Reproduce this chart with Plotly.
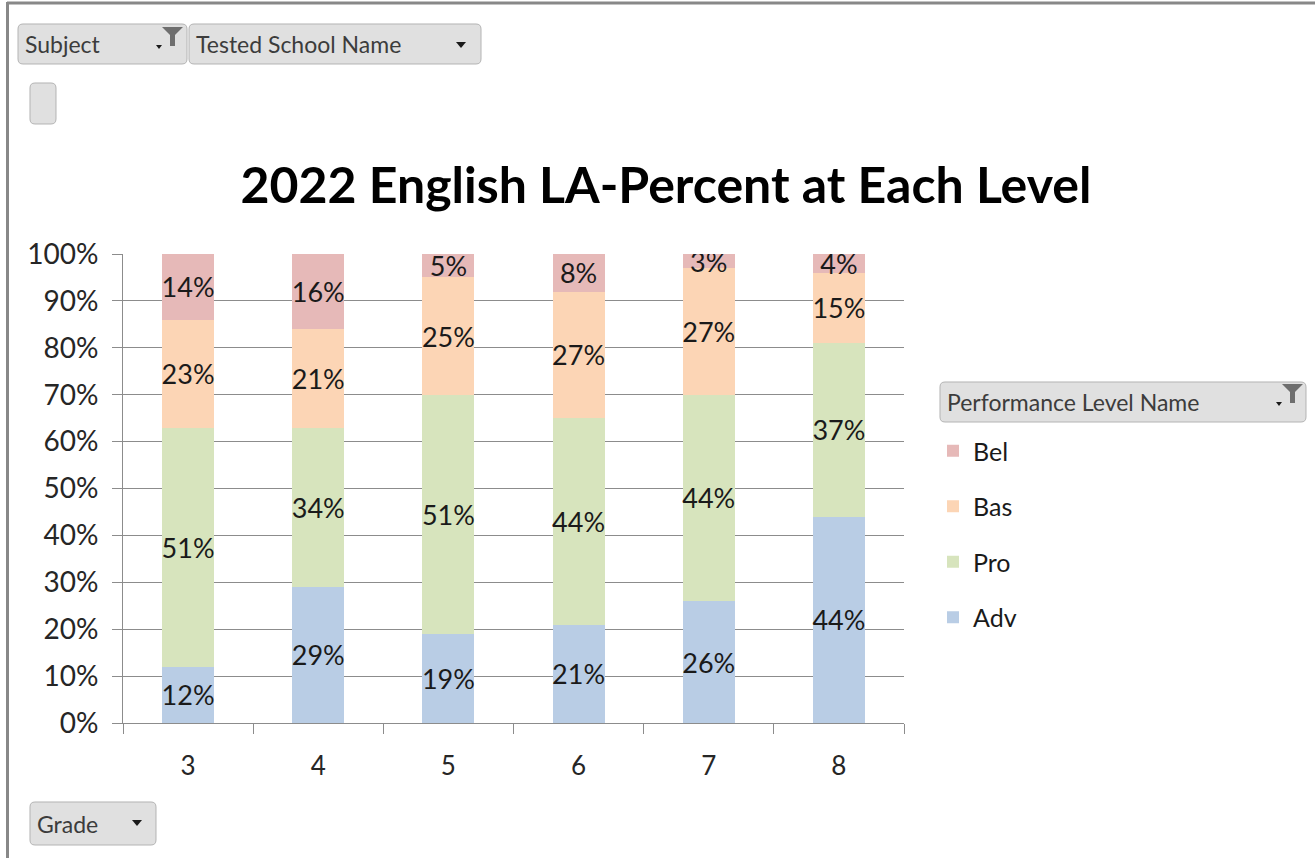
import plotly.graph_objects as go

# ---- data ----
grades = ["3", "4", "5", "6", "7", "8"]
adv = [12, 29, 19, 21, 26, 44]
pro = [51, 34, 51, 44, 44, 37]
bas = [23, 21, 25, 27, 27, 15]
bel = [14, 16, 5, 8, 3, 4]
series_names = ["Adv", "Pro", "Bas", "Bel"]
legend_ranks = [4, 3, 2, 1]
y_ticks = [0, 10, 20, 30, 40, 50, 60, 70, 80, 90, 100]
y_tick_labels = [f"{v}%" for v in y_ticks]
title_text = "2022 English LA-Percent at Each Level"

colors = {"Adv": "#b9cde5", "Pro": "#d7e4bd", "Bas": "#fcd5b5", "Bel": "#e6b9b8"}
FONT = "Lato, Carlito, Calibri, sans-serif"

W, H = 1315, 858
L, R, T, B = 123, 904, 254, 723


def px(x):
    return (x - L) / (R - L)


def py(y):
    return (B - y) / (B - T)


def rrect(x0, y0, x1, y1, r=5):
    pts = [
        ("M", (x0 + r, y0)), ("L", (x1 - r, y0)), ("Q", (x1, y0), (x1, y0 + r)),
        ("L", (x1, y1 - r)), ("Q", (x1, y1), (x1 - r, y1)),
        ("L", (x0 + r, y1)), ("Q", (x0, y1), (x0, y1 - r)),
        ("L", (x0, y0 + r)), ("Q", (x0, y0), (x0 + r, y0)),
    ]
    s = ""
    for p in pts:
        s += p[0] + " ".join(f"{px(a):.5f},{py(b):.5f}" for a, b in p[1:]) + " "
    return s + "Z"


def poly(points):
    s = "M" + " L".join(f"{px(a):.5f},{py(b):.5f}" for a, b in points)
    return s + " Z"


fig = go.Figure()
for name, vals, rank in zip(series_names, [adv, pro, bas, bel], legend_ranks):
    fig.add_trace(go.Bar(
        x=grades, y=vals, name=name,
        marker=dict(color=colors[name], line=dict(width=0)),
        text=[f"{v}%" for v in vals],
        textposition="inside", insidetextanchor="middle",
        constraintext="none", textangle=0,
        textfont=dict(family=FONT, size=27, color="#1a1a1a"),
        width=0.4, legendgroup=name, legendrank=rank, hoverinfo="x+y+name",
    ))

shapes = []
annotations = []

# frame lines
shapes.append(dict(type="line", xref="paper", yref="paper", x0=px(7), x1=px(1315), y0=py(3), y1=py(3),
                   line=dict(color="#888888", width=3)))
shapes.append(dict(type="line", xref="paper", yref="paper", x0=px(7.5), x1=px(7.5), y0=py(2), y1=py(858),
                   line=dict(color="#888888", width=3)))


def button(x0, y0, x1, y1, label=None, tx=None, fsize=23):
    shapes.append(dict(type="path", xref="paper", yref="paper", path=rrect(x0, y0, x1, y1, 5),
                       fillcolor="#e0e0e0", line=dict(color="#b4b4b4", width=1), layer="above"))
    if label:
        annotations.append(dict(xref="paper", yref="paper", x=px(tx), y=py((y0 + y1) / 2),
                                xanchor="left", yanchor="middle", text=label, showarrow=False,
                                font=dict(family=FONT, size=fsize, color="#3c3c3c")))


def arrow(cx, cy, w=10, h=6):
    shapes.append(dict(type="path", xref="paper", yref="paper",
                       path=poly([(cx - w / 2, cy - h / 2), (cx + w / 2, cy - h / 2), (cx, cy + h / 2)]),
                       fillcolor="#1a1a1a", line=dict(width=0), layer="above"))


def funnel(x0, y0):
    shapes.append(dict(type="path", xref="paper", yref="paper",
                       path=poly([(x0, y0), (x0 + 21, y0), (x0 + 13, y0 + 8), (x0 + 13, y0 + 19),
                                  (x0 + 8, y0 + 19), (x0 + 8, y0 + 8)]),
                       fillcolor="#6e6e6e", line=dict(width=0), layer="above"))
    arrow(x0 - 3, y0 + 20, 6, 4)


button(18, 24, 187, 64, "Subject", 23)
funnel(162, 27)
button(189, 24, 481, 64, "Tested School Name", 194)
arrow(461, 45)
button(30, 83, 56, 124)
button(940, 382, 1306, 422, "Performance Level Name", 945)
funnel(1282, 384)
button(30, 802, 156, 845, "Grade", 35)
arrow(137, 823)

fig.update_layout(
    width=W, height=H,
    margin=dict(l=L, r=W - R, t=T, b=H - B, pad=0),
    paper_bgcolor="white", plot_bgcolor="white",
    barmode="stack",
    title=dict(text=f"<b>{title_text}</b>", x=px(666), xref="paper", xanchor="center",
               y=1 - 185 / H, yanchor="middle",
               font=dict(family=FONT, size=50, color="#000000")),
    font=dict(family=FONT, color="#262626"),
    xaxis=dict(
        type="category", tickson="boundaries", ticks="outside", ticklen=10, tickcolor="#8c8c8c",
        showline=True, linecolor="#8c8c8c", linewidth=1, showgrid=False,
        tickfont=dict(family=FONT, size=26, color="#262626"), ticklabelstandoff=20,
        range=[-0.5, 5.5],
    ),
    yaxis=dict(
        range=[0, 100], tickvals=y_ticks, ticktext=y_tick_labels,
        ticks="outside", ticklen=10, tickcolor="#8c8c8c",
        showline=True, linecolor="#8c8c8c", linewidth=1,
        showgrid=True, gridcolor="#8c8c8c", gridwidth=1, zeroline=False,
        tickfont=dict(family=FONT, size=28, color="#262626"), ticklabelstandoff=8,
    ),
    legend=dict(
        x=px(933), y=py(428), xanchor="left", yanchor="top",
        traceorder="grouped", tracegroupgap=20,
        font=dict(family=FONT, size=25, color="#1a1a1a"),
        bgcolor="rgba(0,0,0,0)", itemwidth=30,
    ),
    shapes=shapes, annotations=annotations,
    bargap=0.6,
)

fig.write_html("out.html", config={"displayModeBar": False},
               post_script="document.body.style.margin='0';document.body.style.overflow='hidden';")
